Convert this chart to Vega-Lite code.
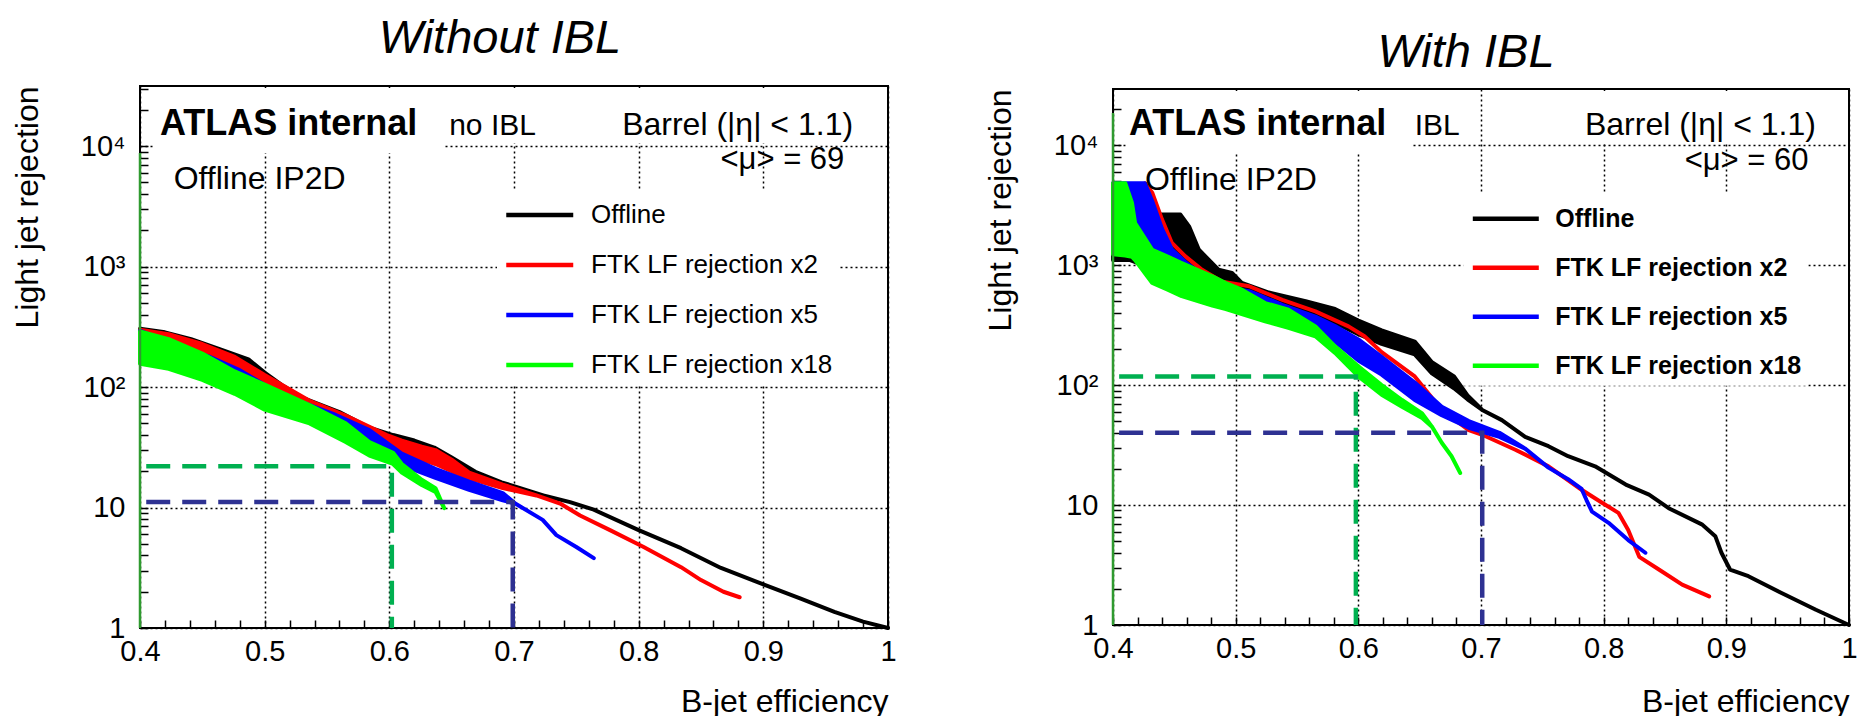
{
"$schema": "https://vega.github.io/schema/vega-lite/v6.json",
"padding": {"left": 10, "top": 13, "right": 0, "bottom": 0},
"bounds": "flush",
"spacing": 225,
"center": true,
"config": {
  "font": "Liberation Sans",
  "view": {"stroke": "black", "strokeWidth": 2},
  "axis": {"labelFont": "Liberation Sans", "titleFont": "Liberation Sans", "labelColor": "black", "titleColor": "black", "tickColor": "black", "labelFontWeight": "normal", "titleFontWeight": "normal"},
  "legend": {"labelFont": "Liberation Sans", "labelColor": "black"},
  "text": {"font": "Liberation Sans", "color": "black"},
  "title": {"font": "Liberation Sans", "color": "black"}
},
"resolve": {"scale": {"x": "independent", "y": "independent", "fill": "independent", "stroke": "independent", "color": "independent"}},
"datasets": {
  "curvesL": [
    {"s": "Offline", "x": 0.400, "lo": 290, "hi": 305},
    {"s": "Offline", "x": 0.420, "lo": 270, "hi": 285},
    {"s": "Offline", "x": 0.441, "lo": 236, "hi": 250},
    {"s": "Offline", "x": 0.465, "lo": 190, "hi": 205},
    {"s": "Offline", "x": 0.487, "lo": 155, "hi": 170},
    {"s": "Offline", "x": 0.500, "lo": 118, "hi": 132},
    {"s": "Offline", "x": 0.515, "lo": 94, "hi": 102},
    {"s": "Offline", "x": 0.531, "lo": 75, "hi": 81},
    {"s": "Offline", "x": 0.560, "lo": 56, "hi": 62},
    {"s": "Offline", "x": 0.584, "lo": 42, "hi": 46},
    {"s": "Offline", "x": 0.603, "lo": 36, "hi": 40},
    {"s": "Offline", "x": 0.620, "lo": 32, "hi": 36},
    {"s": "Offline", "x": 0.636, "lo": 27, "hi": 31.5},
    {"s": "Offline", "x": 0.650, "lo": 23, "hi": 26},
    {"s": "Offline", "x": 0.669, "lo": 17.5, "hi": 19.8},
    {"s": "Offline", "x": 0.690, "lo": 15, "hi": 16.2},
    {"s": "Offline", "x": 0.705, "lo": 14, "hi": 14.5},
    {"s": "Offline", "x": 0.726, "lo": 12.4, "hi": 12.4},
    {"s": "Offline", "x": 0.745, "lo": 11.1, "hi": 11.1},
    {"s": "Offline", "x": 0.764, "lo": 9.6, "hi": 9.6},
    {"s": "Offline", "x": 0.800, "lo": 6.5, "hi": 6.5},
    {"s": "Offline", "x": 0.834, "lo": 4.6, "hi": 4.6},
    {"s": "Offline", "x": 0.866, "lo": 3.15, "hi": 3.15},
    {"s": "Offline", "x": 0.900, "lo": 2.3, "hi": 2.3},
    {"s": "Offline", "x": 0.930, "lo": 1.75, "hi": 1.75},
    {"s": "Offline", "x": 0.957, "lo": 1.36, "hi": 1.36},
    {"s": "Offline", "x": 0.980, "lo": 1.13, "hi": 1.13},
    {"s": "Offline", "x": 1.000, "lo": 1.0, "hi": 1.0},
    {"s": "FTK LF rejection x2", "x": 0.400, "lo": 280, "hi": 300},
    {"s": "FTK LF rejection x2", "x": 0.423, "lo": 240, "hi": 275},
    {"s": "FTK LF rejection x2", "x": 0.450, "lo": 195, "hi": 228},
    {"s": "FTK LF rejection x2", "x": 0.476, "lo": 130, "hi": 178},
    {"s": "FTK LF rejection x2", "x": 0.500, "lo": 95, "hi": 126},
    {"s": "FTK LF rejection x2", "x": 0.536, "lo": 60, "hi": 77},
    {"s": "FTK LF rejection x2", "x": 0.565, "lo": 46, "hi": 58},
    {"s": "FTK LF rejection x2", "x": 0.598, "lo": 32, "hi": 40},
    {"s": "FTK LF rejection x2", "x": 0.610, "lo": 29, "hi": 36},
    {"s": "FTK LF rejection x2", "x": 0.626, "lo": 25, "hi": 32},
    {"s": "FTK LF rejection x2", "x": 0.637, "lo": 23, "hi": 30},
    {"s": "FTK LF rejection x2", "x": 0.650, "lo": 20, "hi": 25},
    {"s": "FTK LF rejection x2", "x": 0.664, "lo": 17.5, "hi": 19.5},
    {"s": "FTK LF rejection x2", "x": 0.691, "lo": 14.5, "hi": 15.5},
    {"s": "FTK LF rejection x2", "x": 0.718, "lo": 12.6, "hi": 12.6},
    {"s": "FTK LF rejection x2", "x": 0.737, "lo": 10.8, "hi": 10.8},
    {"s": "FTK LF rejection x2", "x": 0.753, "lo": 8.6, "hi": 8.6},
    {"s": "FTK LF rejection x2", "x": 0.777, "lo": 6.5, "hi": 6.5},
    {"s": "FTK LF rejection x2", "x": 0.804, "lo": 4.7, "hi": 4.7},
    {"s": "FTK LF rejection x2", "x": 0.834, "lo": 3.2, "hi": 3.2},
    {"s": "FTK LF rejection x2", "x": 0.850, "lo": 2.5, "hi": 2.5},
    {"s": "FTK LF rejection x2", "x": 0.868, "lo": 2.0, "hi": 2.0},
    {"s": "FTK LF rejection x2", "x": 0.881, "lo": 1.8, "hi": 1.8},
    {"s": "FTK LF rejection x5", "x": 0.400, "lo": 265, "hi": 295},
    {"s": "FTK LF rejection x5", "x": 0.432, "lo": 170, "hi": 215},
    {"s": "FTK LF rejection x5", "x": 0.455, "lo": 135, "hi": 180},
    {"s": "FTK LF rejection x5", "x": 0.479, "lo": 100, "hi": 140},
    {"s": "FTK LF rejection x5", "x": 0.512, "lo": 68, "hi": 88},
    {"s": "FTK LF rejection x5", "x": 0.555, "lo": 46, "hi": 60},
    {"s": "FTK LF rejection x5", "x": 0.584, "lo": 31, "hi": 44},
    {"s": "FTK LF rejection x5", "x": 0.610, "lo": 22.5, "hi": 28},
    {"s": "FTK LF rejection x5", "x": 0.637, "lo": 17.6, "hi": 21},
    {"s": "FTK LF rejection x5", "x": 0.664, "lo": 14, "hi": 16.4},
    {"s": "FTK LF rejection x5", "x": 0.691, "lo": 11.5, "hi": 13.2},
    {"s": "FTK LF rejection x5", "x": 0.701, "lo": 10.8, "hi": 10.8},
    {"s": "FTK LF rejection x5", "x": 0.723, "lo": 7.9, "hi": 7.9},
    {"s": "FTK LF rejection x5", "x": 0.734, "lo": 5.9, "hi": 5.9},
    {"s": "FTK LF rejection x5", "x": 0.750, "lo": 4.7, "hi": 4.7},
    {"s": "FTK LF rejection x5", "x": 0.764, "lo": 3.8, "hi": 3.8},
    {"s": "FTK LF rejection x18", "x": 0.400, "lo": 156, "hi": 290},
    {"s": "FTK LF rejection x18", "x": 0.423, "lo": 142, "hi": 250},
    {"s": "FTK LF rejection x18", "x": 0.450, "lo": 115, "hi": 190},
    {"s": "FTK LF rejection x18", "x": 0.476, "lo": 88, "hi": 135},
    {"s": "FTK LF rejection x18", "x": 0.500, "lo": 65, "hi": 105},
    {"s": "FTK LF rejection x18", "x": 0.536, "lo": 50, "hi": 71},
    {"s": "FTK LF rejection x18", "x": 0.565, "lo": 35, "hi": 50},
    {"s": "FTK LF rejection x18", "x": 0.584, "lo": 27, "hi": 35},
    {"s": "FTK LF rejection x18", "x": 0.603, "lo": 23, "hi": 28.5},
    {"s": "FTK LF rejection x18", "x": 0.610, "lo": 19.5, "hi": 23},
    {"s": "FTK LF rejection x18", "x": 0.626, "lo": 15.4, "hi": 17},
    {"s": "FTK LF rejection x18", "x": 0.637, "lo": 13.5, "hi": 14.5},
    {"s": "FTK LF rejection x18", "x": 0.644, "lo": 9.9, "hi": 9.9}
  ],
  "curvesR": [
    {"s": "Offline", "x": 0.400, "lo": 1100, "hi": 2630},
    {"s": "Offline", "x": 0.414, "lo": 1100, "hi": 2630},
    {"s": "Offline", "x": 0.430, "lo": 950, "hi": 2630},
    {"s": "Offline", "x": 0.455, "lo": 800, "hi": 2630},
    {"s": "Offline", "x": 0.462, "lo": 750, "hi": 2100},
    {"s": "Offline", "x": 0.470, "lo": 700, "hi": 1340},
    {"s": "Offline", "x": 0.486, "lo": 640, "hi": 915},
    {"s": "Offline", "x": 0.497, "lo": 600, "hi": 860},
    {"s": "Offline", "x": 0.505, "lo": 560, "hi": 710},
    {"s": "Offline", "x": 0.527, "lo": 480, "hi": 590},
    {"s": "Offline", "x": 0.557, "lo": 410, "hi": 500},
    {"s": "Offline", "x": 0.581, "lo": 330, "hi": 430},
    {"s": "Offline", "x": 0.600, "lo": 265, "hi": 345},
    {"s": "Offline", "x": 0.619, "lo": 220, "hi": 285},
    {"s": "Offline", "x": 0.646, "lo": 180, "hi": 230},
    {"s": "Offline", "x": 0.660, "lo": 125, "hi": 155},
    {"s": "Offline", "x": 0.678, "lo": 94, "hi": 118},
    {"s": "Offline", "x": 0.689, "lo": 76, "hi": 82},
    {"s": "Offline", "x": 0.701, "lo": 62, "hi": 62},
    {"s": "Offline", "x": 0.717, "lo": 51, "hi": 51},
    {"s": "Offline", "x": 0.736, "lo": 37, "hi": 37},
    {"s": "Offline", "x": 0.755, "lo": 30.9, "hi": 30.9},
    {"s": "Offline", "x": 0.771, "lo": 25.5, "hi": 25.5},
    {"s": "Offline", "x": 0.793, "lo": 21, "hi": 21},
    {"s": "Offline", "x": 0.818, "lo": 14.8, "hi": 14.8},
    {"s": "Offline", "x": 0.837, "lo": 12.2, "hi": 12.2},
    {"s": "Offline", "x": 0.853, "lo": 9.4, "hi": 9.4},
    {"s": "Offline", "x": 0.880, "lo": 6.9, "hi": 6.9},
    {"s": "Offline", "x": 0.891, "lo": 5.5, "hi": 5.5},
    {"s": "Offline", "x": 0.896, "lo": 4.0, "hi": 4.0},
    {"s": "Offline", "x": 0.903, "lo": 2.9, "hi": 2.9},
    {"s": "Offline", "x": 0.918, "lo": 2.55, "hi": 2.55},
    {"s": "Offline", "x": 0.945, "lo": 1.85, "hi": 1.85},
    {"s": "Offline", "x": 0.973, "lo": 1.34, "hi": 1.34},
    {"s": "Offline", "x": 1.000, "lo": 1.0, "hi": 1.0},
    {"s": "FTK LF rejection x2", "x": 0.426, "lo": 4800, "hi": 4800},
    {"s": "FTK LF rejection x2", "x": 0.432, "lo": 4000, "hi": 4000},
    {"s": "FTK LF rejection x2", "x": 0.440, "lo": 2390, "hi": 2390},
    {"s": "FTK LF rejection x2", "x": 0.448, "lo": 1525, "hi": 1525},
    {"s": "FTK LF rejection x2", "x": 0.459, "lo": 1180, "hi": 1180},
    {"s": "FTK LF rejection x2", "x": 0.4726, "lo": 912, "hi": 912},
    {"s": "FTK LF rejection x2", "x": 0.489, "lo": 727, "hi": 727},
    {"s": "FTK LF rejection x2", "x": 0.511, "lo": 665, "hi": 665},
    {"s": "FTK LF rejection x2", "x": 0.521, "lo": 603, "hi": 603},
    {"s": "FTK LF rejection x2", "x": 0.538, "lo": 513, "hi": 513},
    {"s": "FTK LF rejection x2", "x": 0.565, "lo": 411, "hi": 411},
    {"s": "FTK LF rejection x2", "x": 0.592, "lo": 308, "hi": 308},
    {"s": "FTK LF rejection x2", "x": 0.605, "lo": 255, "hi": 255},
    {"s": "FTK LF rejection x2", "x": 0.619, "lo": 188, "hi": 188},
    {"s": "FTK LF rejection x2", "x": 0.646, "lo": 118, "hi": 118},
    {"s": "FTK LF rejection x2", "x": 0.668, "lo": 62, "hi": 62},
    {"s": "FTK LF rejection x2", "x": 0.690, "lo": 42, "hi": 42},
    {"s": "FTK LF rejection x2", "x": 0.701, "lo": 38.5, "hi": 38.5},
    {"s": "FTK LF rejection x2", "x": 0.728, "lo": 28.9, "hi": 28.9},
    {"s": "FTK LF rejection x2", "x": 0.755, "lo": 21, "hi": 21},
    {"s": "FTK LF rejection x2", "x": 0.782, "lo": 13.4, "hi": 13.4},
    {"s": "FTK LF rejection x2", "x": 0.799, "lo": 10.4, "hi": 10.4},
    {"s": "FTK LF rejection x2", "x": 0.812, "lo": 8.6, "hi": 8.6},
    {"s": "FTK LF rejection x2", "x": 0.820, "lo": 6.2, "hi": 6.2},
    {"s": "FTK LF rejection x2", "x": 0.829, "lo": 3.7, "hi": 3.7},
    {"s": "FTK LF rejection x2", "x": 0.845, "lo": 2.9, "hi": 2.9},
    {"s": "FTK LF rejection x2", "x": 0.864, "lo": 2.17, "hi": 2.17},
    {"s": "FTK LF rejection x2", "x": 0.886, "lo": 1.73, "hi": 1.73},
    {"s": "FTK LF rejection x5", "x": 0.400, "lo": 2500, "hi": 4800},
    {"s": "FTK LF rejection x5", "x": 0.426, "lo": 1600, "hi": 4800},
    {"s": "FTK LF rejection x5", "x": 0.432, "lo": 1300, "hi": 3400},
    {"s": "FTK LF rejection x5", "x": 0.440, "lo": 1100, "hi": 2000},
    {"s": "FTK LF rejection x5", "x": 0.448, "lo": 950, "hi": 1350},
    {"s": "FTK LF rejection x5", "x": 0.459, "lo": 820, "hi": 1060},
    {"s": "FTK LF rejection x5", "x": 0.4726, "lo": 720, "hi": 830},
    {"s": "FTK LF rejection x5", "x": 0.489, "lo": 620, "hi": 660},
    {"s": "FTK LF rejection x5", "x": 0.511, "lo": 520, "hi": 605},
    {"s": "FTK LF rejection x5", "x": 0.521, "lo": 470, "hi": 550},
    {"s": "FTK LF rejection x5", "x": 0.538, "lo": 400, "hi": 465},
    {"s": "FTK LF rejection x5", "x": 0.565, "lo": 310, "hi": 372},
    {"s": "FTK LF rejection x5", "x": 0.581, "lo": 230, "hi": 310},
    {"s": "FTK LF rejection x5", "x": 0.600, "lo": 160, "hi": 240},
    {"s": "FTK LF rejection x5", "x": 0.619, "lo": 122, "hi": 172},
    {"s": "FTK LF rejection x5", "x": 0.646, "lo": 75, "hi": 105},
    {"s": "FTK LF rejection x5", "x": 0.668, "lo": 56, "hi": 66},
    {"s": "FTK LF rejection x5", "x": 0.690, "lo": 44, "hi": 50},
    {"s": "FTK LF rejection x5", "x": 0.715, "lo": 37, "hi": 40},
    {"s": "FTK LF rejection x5", "x": 0.736, "lo": 29.5, "hi": 29.5},
    {"s": "FTK LF rejection x5", "x": 0.755, "lo": 20.5, "hi": 20.5},
    {"s": "FTK LF rejection x5", "x": 0.771, "lo": 16.4, "hi": 16.4},
    {"s": "FTK LF rejection x5", "x": 0.782, "lo": 13.6, "hi": 13.6},
    {"s": "FTK LF rejection x5", "x": 0.786, "lo": 11.0, "hi": 11.0},
    {"s": "FTK LF rejection x5", "x": 0.7905, "lo": 8.8, "hi": 8.8},
    {"s": "FTK LF rejection x5", "x": 0.804, "lo": 7.1, "hi": 7.1},
    {"s": "FTK LF rejection x5", "x": 0.820, "lo": 5.1, "hi": 5.1},
    {"s": "FTK LF rejection x5", "x": 0.834, "lo": 4.0, "hi": 4.0},
    {"s": "FTK LF rejection x18", "x": 0.400, "lo": 1230, "hi": 4800},
    {"s": "FTK LF rejection x18", "x": 0.410, "lo": 1200, "hi": 4800},
    {"s": "FTK LF rejection x18", "x": 0.4155, "lo": 1170, "hi": 3290},
    {"s": "FTK LF rejection x18", "x": 0.418, "lo": 1100, "hi": 2240},
    {"s": "FTK LF rejection x18", "x": 0.432, "lo": 708, "hi": 1340},
    {"s": "FTK LF rejection x18", "x": 0.445, "lo": 620, "hi": 1170},
    {"s": "FTK LF rejection x18", "x": 0.456, "lo": 550, "hi": 1040},
    {"s": "FTK LF rejection x18", "x": 0.481, "lo": 460, "hi": 805},
    {"s": "FTK LF rejection x18", "x": 0.492, "lo": 430, "hi": 708},
    {"s": "FTK LF rejection x18", "x": 0.505, "lo": 390, "hi": 623},
    {"s": "FTK LF rejection x18", "x": 0.524, "lo": 340, "hi": 482},
    {"s": "FTK LF rejection x18", "x": 0.543, "lo": 300, "hi": 424},
    {"s": "FTK LF rejection x18", "x": 0.565, "lo": 255, "hi": 308},
    {"s": "FTK LF rejection x18", "x": 0.581, "lo": 185, "hi": 210},
    {"s": "FTK LF rejection x18", "x": 0.600, "lo": 118, "hi": 143},
    {"s": "FTK LF rejection x18", "x": 0.619, "lo": 83, "hi": 100},
    {"s": "FTK LF rejection x18", "x": 0.6356, "lo": 66, "hi": 75},
    {"s": "FTK LF rejection x18", "x": 0.652, "lo": 53, "hi": 58},
    {"s": "FTK LF rejection x18", "x": 0.660, "lo": 45, "hi": 45},
    {"s": "FTK LF rejection x18", "x": 0.668, "lo": 33, "hi": 33},
    {"s": "FTK LF rejection x18", "x": 0.676, "lo": 25.5, "hi": 25.5},
    {"s": "FTK LF rejection x18", "x": 0.683, "lo": 18.5, "hi": 18.5}
  ],
  "refL18": [{"x": 0.405, "y": 22}, {"x": 0.602, "y": 22}, {"x": 0.602, "y": 1}],
  "refL5": [{"x": 0.405, "y": 11.1}, {"x": 0.699, "y": 11.1}, {"x": 0.699, "y": 1}],
  "refR18": [{"x": 0.405, "y": 118}, {"x": 0.598, "y": 118}, {"x": 0.598, "y": 1}],
  "refR5": [{"x": 0.405, "y": 40}, {"x": 0.701, "y": 40}, {"x": 0.701, "y": 1}],
  "edgeL": [{"x": 0.4, "y": 1}, {"x": 0.4, "y": 8800}],
  "edgeR": [{"x": 0.4, "y": 1}, {"x": 0.4, "y": 18500}],
  "one": [{}]
},
"hconcat": [
  {
    "width": 748, "height": 542,
    "title": {"text": "Without IBL", "fontSize": 47, "fontStyle": "italic", "fontWeight": "normal", "anchor": "middle", "frame": "group", "dx": -14, "offset": 12, "baseline": "top"},
    "layer": [
      {"layer": [
        {"data": {"name": "curvesL"},
         "mark": {"type": "area", "strokeWidth": 4, "strokeJoin": "round", "strokeCap": "round", "opacity": 1},
         "encoding": {
           "x": {"field": "x", "type": "quantitative", "scale": {"domain": [0.4, 1], "nice": false, "zero": false},
             "axis": {"orient": "bottom", "values": [0.4,0.42,0.44,0.46,0.48,0.5,0.52,0.54,0.56,0.58,0.6,0.62,0.64,0.66,0.68,0.7,0.72,0.74,0.76,0.78,0.8,0.82,0.84,0.86,0.88,0.9,0.92,0.94,0.96,0.98,1], "tickCount": 100,
               "labelExpr": "abs(datum.value*10-round(datum.value*10))<0.001 ? (datum.value>0.999 ? '1' : format(datum.value,'.1f')) : ''",
               "labelFontSize": 29, "labelPadding": 17, "labelBaseline": "top", "labelFlush": false, "labelOverlap": false, "labelBound": false,
               "domain": false, "grid": true, "gridColor": "black", "gridDash": [2, 3], "gridWidth": 1.5,
               "gridOpacity": {"condition": {"test": "abs(datum.value*10-round(datum.value*10))<0.001", "value": 1}, "value": 0},
               "ticks": true, "tickSize": -8, "tickWidth": 1.5,
               "title": "B-jet efficiency", "titleFontSize": 32, "titleX": 748, "titleY": 83, "titleAlign": "right", "titleBaseline": "alphabetic", "titleAngle": 0}},
           "y": {"field": "hi", "type": "quantitative", "scale": {"type": "log", "domain": [1, 31623], "nice": false},
             "axis": {"orient": "left", "values": [1,2,3,4,5,6,7,8,9,10,20,30,40,50,60,70,80,90,100,200,300,400,500,600,700,800,900,1000,2000,3000,4000,5000,6000,7000,8000,9000,10000,20000,30000], "tickCount": 100,
               "labelExpr": "datum.value==1?'1':datum.value==10?'10':datum.value==100?'10²':datum.value==1000?'10³':datum.value==10000?'10⁴':''",
               "labelFontSize": 29, "labelPadding": 23, "labelBaseline": "middle", "labelFlush": false, "labelOverlap": false, "labelBound": false,
               "domain": false, "grid": true, "gridColor": "black", "gridDash": [2, 3], "gridWidth": 1.5,
               "gridOpacity": {"condition": {"test": "datum.value==1||datum.value==10||datum.value==100||datum.value==1000||datum.value==10000", "value": 1}, "value": 0},
               "ticks": true, "tickSize": -8, "tickWidth": 1.5,
               "title": "Light jet rejection", "titleFontSize": 32, "titleX": -128, "titleY": 0, "titleAngle": -90, "titleAlign": "right", "titleBaseline": "top"}},
           "y2": {"field": "lo"},
           "fill": {"field": "s", "type": "nominal", "scale": {"domain": ["Offline", "FTK LF rejection x2", "FTK LF rejection x5", "FTK LF rejection x18"], "range": ["#000000", "#ff0000", "#0000ff", "#00ff00"]},
             "legend": {"orient": "none", "legendX": 357, "legendY": 103, "zindex": 1, "fillColor": "white", "padding": 7, "title": null, "symbolType": "M-1,0H3", "symbolSize": 1122, "symbolStrokeWidth": 4.5, "labelFontSize": 26, "labelOffset": 49, "rowPadding": 18, "labelLimit": 500}},
           "stroke": {"field": "s", "type": "nominal", "scale": {"domain": ["Offline", "FTK LF rejection x2", "FTK LF rejection x5", "FTK LF rejection x18"], "range": ["#000000", "#ff0000", "#0000ff", "#00ff00"]},
             "legend": {"orient": "none", "legendX": 357, "legendY": 103, "zindex": 1, "fillColor": "white", "padding": 7, "title": null, "symbolType": "M-1,0H3", "symbolSize": 1122, "symbolStrokeWidth": 4.5, "labelFontSize": 26, "labelOffset": 49, "rowPadding": 18, "labelLimit": 500}}
         }},
        {"data": {"name": "edgeL"}, "mark": {"type": "line", "color": "#2f9a2f", "strokeWidth": 2.5},
         "encoding": {"x": {"field": "x", "type": "quantitative"}, "y": {"field": "y", "type": "quantitative"}, "order": {"value": null}}}
      ]},
      {"layer": [
        {"data": {"name": "one"}, "mark": {"type": "rect", "fill": "white"}, "encoding": {"x": {"datum": 0.4105, "axis": null}, "x2": {"datum": 0.644}, "y": {"datum": 8800, "axis": null}, "y2": {"datum": 30400}}},
        {"data": {"name": "one"}, "mark": {"type": "rect", "fill": "white"}, "encoding": {"x": {"datum": 0.644, "axis": null}, "x2": {"datum": 0.9985}, "y": {"datum": 10600, "axis": null}, "y2": {"datum": 30400}}},
        {"data": {"name": "one"}, "mark": {"type": "text", "text": "ATLAS internal", "fontSize": 36, "fontWeight": "bold", "align": "left", "baseline": "alphabetic"}, "encoding": {"x": {"datum": 0.416, "axis": null}, "y": {"datum": 12300, "axis": null}}},
        {"data": {"name": "one"}, "mark": {"type": "text", "text": "no IBL", "fontSize": 30, "align": "left", "baseline": "alphabetic"}, "encoding": {"x": {"datum": 0.648, "axis": null}, "y": {"datum": 12300, "axis": null}}},
        {"data": {"name": "one"}, "mark": {"type": "text", "text": "Barrel (|η| < 1.1)", "fontSize": 32, "align": "right", "baseline": "alphabetic"}, "encoding": {"x": {"datum": 0.972, "axis": null}, "y": {"datum": 12400, "axis": null}}},
        {"data": {"name": "one"}, "mark": {"type": "text", "text": "<μ> = 69", "fontSize": 31, "align": "right", "baseline": "alphabetic"}, "encoding": {"x": {"datum": 0.965, "axis": null}, "y": {"datum": 6480, "axis": null}}},
        {"data": {"name": "one"}, "mark": {"type": "text", "text": "Offline IP2D", "fontSize": 32, "align": "left", "baseline": "alphabetic"}, "encoding": {"x": {"datum": 0.427, "axis": null}, "y": {"datum": 4400, "axis": null}}}
      ]},
      {"data": {"name": "refL18"},
       "mark": {"type": "line", "strokeWidth": 4.5, "strokeDash": [24, 12], "color": "#00b050"},
       "encoding": {"x": {"field": "x", "type": "quantitative", "axis": null}, "y": {"field": "y", "type": "quantitative", "axis": null}, "order": {"value": null}}},
      {"data": {"name": "refL5"},
       "mark": {"type": "line", "strokeWidth": 4.5, "strokeDash": [24, 12], "color": "#2e3192"},
       "encoding": {"x": {"field": "x", "type": "quantitative", "axis": null}, "y": {"field": "y", "type": "quantitative", "axis": null}, "order": {"value": null}}}
    ],
    "resolve": {"axis": {"x": "independent", "y": "independent"}}
  },
  {
    "width": 736, "height": 536,
    "title": {"text": "With IBL", "fontSize": 47, "fontStyle": "italic", "fontWeight": "normal", "anchor": "middle", "frame": "group", "dx": -15, "offset": 12, "baseline": "top"},
    "layer": [
      {"layer": [
        {"data": {"name": "curvesR"},
         "mark": {"type": "area", "strokeWidth": 4, "strokeJoin": "round", "strokeCap": "round", "opacity": 1},
         "encoding": {
           "x": {"field": "x", "type": "quantitative", "scale": {"domain": [0.4, 1], "nice": false, "zero": false},
             "axis": {"orient": "bottom", "values": [0.4,0.42,0.44,0.46,0.48,0.5,0.52,0.54,0.56,0.58,0.6,0.62,0.64,0.66,0.68,0.7,0.72,0.74,0.76,0.78,0.8,0.82,0.84,0.86,0.88,0.9,0.92,0.94,0.96,0.98,1], "tickCount": 100,
               "labelExpr": "abs(datum.value*10-round(datum.value*10))<0.001 ? (datum.value>0.999 ? '1' : format(datum.value,'.1f')) : ''",
               "labelFontSize": 29, "labelPadding": 17, "labelBaseline": "top", "labelFlush": false, "labelOverlap": false, "labelBound": false,
               "domain": false, "grid": true, "gridColor": "black", "gridDash": [2, 3], "gridWidth": 1.5,
               "gridOpacity": {"condition": {"test": "abs(datum.value*10-round(datum.value*10))<0.001", "value": 1}, "value": 0},
               "ticks": true, "tickSize": -8, "tickWidth": 1.5,
               "title": "B-jet efficiency", "titleFontSize": 32, "titleX": 736, "titleY": 86, "titleAlign": "right", "titleBaseline": "alphabetic", "titleAngle": 0}},
           "y": {"field": "hi", "type": "quantitative", "scale": {"type": "log", "domain": [1, 29300], "nice": false},
             "axis": {"orient": "left", "values": [1,2,3,4,5,6,7,8,9,10,20,30,40,50,60,70,80,90,100,200,300,400,500,600,700,800,900,1000,2000,3000,4000,5000,6000,7000,8000,9000,10000,20000], "tickCount": 100,
               "labelExpr": "datum.value==1?'1':datum.value==10?'10':datum.value==100?'10²':datum.value==1000?'10³':datum.value==10000?'10⁴':''",
               "labelFontSize": 29, "labelPadding": 23, "labelBaseline": "middle", "labelFlush": false, "labelOverlap": false, "labelBound": false,
               "domain": false, "grid": true, "gridColor": "black", "gridDash": [2, 3], "gridWidth": 1.5,
               "gridOpacity": {"condition": {"test": "datum.value==1||datum.value==10||datum.value==100||datum.value==1000||datum.value==10000", "value": 1}, "value": 0},
               "ticks": true, "tickSize": -8, "tickWidth": 1.5,
               "title": "Light jet rejection", "titleFontSize": 32, "titleX": -128, "titleY": 0, "titleAngle": -90, "titleAlign": "right", "titleBaseline": "top"}},
           "y2": {"field": "lo"},
           "fill": {"field": "s", "type": "nominal", "scale": {"domain": ["Offline", "FTK LF rejection x2", "FTK LF rejection x5", "FTK LF rejection x18"], "range": ["#000000", "#ff0000", "#0000ff", "#00ff00"]},
             "legend": {"orient": "none", "legendX": 350.3, "legendY": 103.7, "zindex": 1, "fillColor": "white", "padding": 7, "title": null, "symbolType": "M-1,0H3", "symbolSize": 1089, "symbolStrokeWidth": 4.5, "labelFontSize": 25, "labelFontWeight": "bold", "labelOffset": 47, "rowPadding": 17, "labelLimit": 500}},
           "stroke": {"field": "s", "type": "nominal", "scale": {"domain": ["Offline", "FTK LF rejection x2", "FTK LF rejection x5", "FTK LF rejection x18"], "range": ["#000000", "#ff0000", "#0000ff", "#00ff00"]},
             "legend": {"orient": "none", "legendX": 350.3, "legendY": 103.7, "zindex": 1, "fillColor": "white", "padding": 7, "title": null, "symbolType": "M-1,0H3", "symbolSize": 1089, "symbolStrokeWidth": 4.5, "labelFontSize": 25, "labelFontWeight": "bold", "labelOffset": 47, "rowPadding": 17, "labelLimit": 500}}
         }},
        {"data": {"name": "edgeR"}, "mark": {"type": "line", "color": "#2f9a2f", "strokeWidth": 2.5},
         "encoding": {"x": {"field": "x", "type": "quantitative"}, "y": {"field": "y", "type": "quantitative"}, "order": {"value": null}}}
      ]},
      {"layer": [
        {"data": {"name": "one"}, "mark": {"type": "rect", "fill": "white"}, "encoding": {"x": {"datum": 0.4105, "axis": null}, "x2": {"datum": 0.644}, "y": {"datum": 8600, "axis": null}, "y2": {"datum": 28200}}},
        {"data": {"name": "one"}, "mark": {"type": "rect", "fill": "white"}, "encoding": {"x": {"datum": 0.644, "axis": null}, "x2": {"datum": 0.695}, "y": {"datum": 10500, "axis": null}, "y2": {"datum": 28200}}},
        {"data": {"name": "one"}, "mark": {"type": "rect", "fill": "white"}, "encoding": {"x": {"datum": 0.705, "axis": null}, "x2": {"datum": 0.9985}, "y": {"datum": 10500, "axis": null}, "y2": {"datum": 28200}}},
        {"data": {"name": "one"}, "mark": {"type": "text", "text": "ATLAS internal", "fontSize": 36, "fontWeight": "bold", "align": "left", "baseline": "alphabetic"}, "encoding": {"x": {"datum": 0.413, "axis": null}, "y": {"datum": 12200, "axis": null}}},
        {"data": {"name": "one"}, "mark": {"type": "text", "text": "IBL", "fontSize": 30, "align": "left", "baseline": "alphabetic"}, "encoding": {"x": {"datum": 0.646, "axis": null}, "y": {"datum": 12200, "axis": null}}},
        {"data": {"name": "one"}, "mark": {"type": "text", "text": "Barrel (|η| < 1.1)", "fontSize": 32, "align": "right", "baseline": "alphabetic"}, "encoding": {"x": {"datum": 0.973, "axis": null}, "y": {"datum": 12100, "axis": null}}},
        {"data": {"name": "one"}, "mark": {"type": "text", "text": "<μ> = 60", "fontSize": 31, "align": "right", "baseline": "alphabetic"}, "encoding": {"x": {"datum": 0.967, "axis": null}, "y": {"datum": 6230, "axis": null}}},
        {"data": {"name": "one"}, "mark": {"type": "text", "text": "Offline IP2D", "fontSize": 32, "align": "left", "baseline": "alphabetic"}, "encoding": {"x": {"datum": 0.426, "axis": null}, "y": {"datum": 4240, "axis": null}}}
      ]},
      {"data": {"name": "refR18"},
       "mark": {"type": "line", "strokeWidth": 4.5, "strokeDash": [24, 12], "color": "#00b050"},
       "encoding": {"x": {"field": "x", "type": "quantitative", "axis": null}, "y": {"field": "y", "type": "quantitative", "axis": null}, "order": {"value": null}}},
      {"data": {"name": "refR5"},
       "mark": {"type": "line", "strokeWidth": 4.5, "strokeDash": [24, 12], "color": "#2e3192"},
       "encoding": {"x": {"field": "x", "type": "quantitative", "axis": null}, "y": {"field": "y", "type": "quantitative", "axis": null}, "order": {"value": null}}}
    ],
    "resolve": {"axis": {"x": "independent", "y": "independent"}}
  }
]
}
